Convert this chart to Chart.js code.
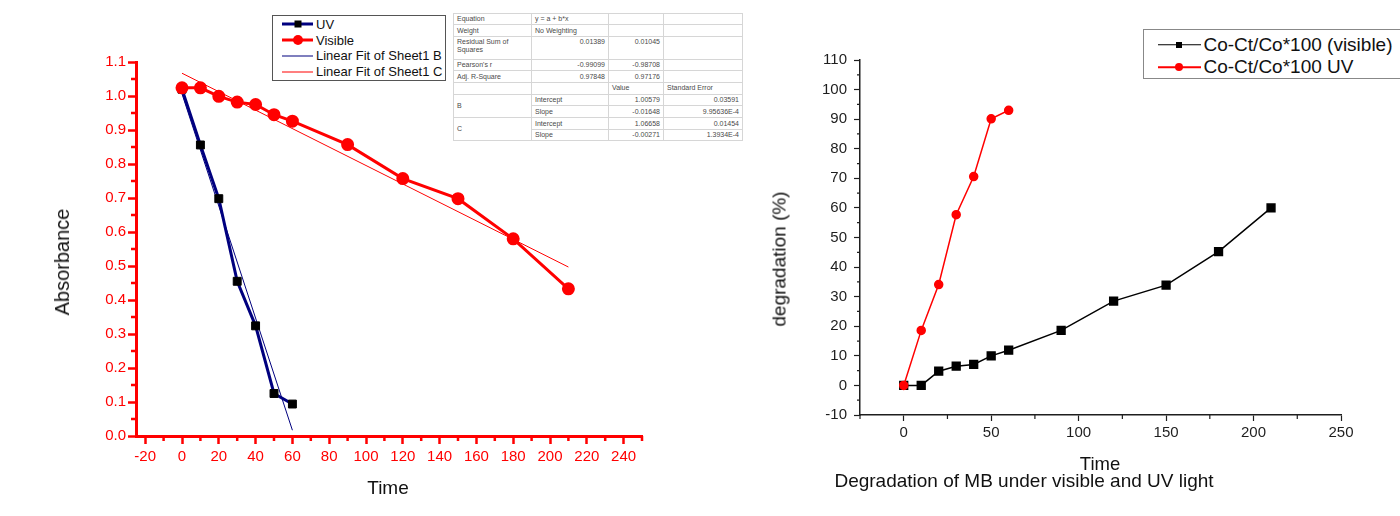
<!DOCTYPE html>
<html>
<head>
<meta charset="utf-8">
<title>Absorbance and degradation of MB</title>
<script src="https://cdn.jsdelivr.net/npm/chart.js@4.4.1/dist/chart.umd.min.js"></script>
<style>
  html, body { margin: 0; padding: 0; background: #fff; }
  body { width: 1400px; height: 516px; position: relative; overflow: hidden;
         font-family: Arial, "Liberation Sans", sans-serif; color: #111; }
  canvas { position: absolute; top: 0; }
  #absCanvas { left: 0; }
  #degCanvas { left: 760px; }
  .lbl { position: absolute; white-space: nowrap; line-height: 1; transform: translate(-50%, -50%); }
  .vert { transform: translate(-50%, -50%) rotate(-90deg); }
  .legend { position: absolute; background: #fff; box-sizing: border-box; }
  .legend .row { display: flex; align-items: center; white-space: nowrap; }
  .legend .sample { position: relative; height: 100%; flex: none; }
  .legend .line { position: absolute; left: 0; right: 0; top: 50%; transform: translateY(-50%); }
  .legend .mark { position: absolute; left: 50%; top: 50%; transform: translate(-50%, -50%); }
  .legend .mark.circle { border-radius: 50%; }
  #absLegend { left: 271.5px; top: 15px; width: 174px; height: 66px; border: 1.5px solid #555;
               font-size: 13px; padding-top: 0.5px; }
  #absLegend .row { height: 15.8px; }
  #degLegend { left: 1142.5px; top: 29px; width: 280px; height: 50px; border: 1px solid #888;
               font-size: 19px; padding-top: 3.8px; }
  #degLegend .row { height: 22.3px; }
  #fitTable { position: absolute; left: 453px; top: 12.5px; border-collapse: collapse;
              border: 1px solid #a8a8a8; font-size: 7px; color: #4a4a4a; table-layout: fixed; background: #fff; }
  #fitTable td { border: 1px solid #d6d6d6; padding: 0 3px; height: 10.7px; line-height: 1.1;
                 white-space: nowrap; vertical-align: middle; overflow: hidden; }
  #fitTable td.r { text-align: right; }
  #fitTable tr.tall td { height: 20.7px; vertical-align: top; padding-top: 1px; }
</style>
</head>
<body>
<canvas id="absCanvas" width="760" height="516"></canvas>
<canvas id="degCanvas" width="640" height="516"></canvas>

<div class="lbl vert" style="left:62px; top:262px; font-size:20px;">Absorbance</div>
<div class="lbl" style="left:388px; top:487px; font-size:19px;">Time</div>
<div class="lbl vert" style="left:779px; top:259px; font-size:19px;">degradation (%)</div>
<div class="lbl" style="left:1100px; top:464px; font-size:18.5px;">Time</div>
<div class="lbl" style="left:1024px; top:479.5px; font-size:19px;">Degradation of MB under visible and UV light</div>

<div id="absLegend" class="legend"></div>
<div id="degLegend" class="legend"></div>

<table id="fitTable">
  <colgroup><col style="width:78px"><col style="width:77px"><col style="width:55px"><col style="width:79px"></colgroup>
  <tr><td>Equation</td><td>y = a + b*x</td><td></td><td></td></tr>
  <tr><td>Weight</td><td>No Weighting</td><td></td><td></td></tr>
  <tr class="tall"><td>Residual Sum of<br>Squares</td><td class="r">0.01389</td><td class="r">0.01045</td><td></td></tr>
  <tr><td>Pearson's r</td><td class="r">-0.99099</td><td class="r">-0.98708</td><td></td></tr>
  <tr><td>Adj. R-Square</td><td class="r">0.97848</td><td class="r">0.97176</td><td></td></tr>
  <tr><td></td><td></td><td>Value</td><td>Standard Error</td></tr>
  <tr><td rowspan="2">B</td><td>Intercept</td><td class="r">1.00579</td><td class="r">0.03591</td></tr>
  <tr><td>Slope</td><td class="r">-0.01648</td><td class="r">9.95636E-4</td></tr>
  <tr><td rowspan="2">C</td><td>Intercept</td><td class="r">1.06658</td><td class="r">0.01454</td></tr>
  <tr><td>Slope</td><td class="r">-0.00271</td><td class="r">1.3934E-4</td></tr>
</table>

<script>
// ---------------- data: absorbance chart ----------------
const uvTime = [0, 10, 20, 30, 40, 50, 60];
const uvAbs = [1.02, 0.856, 0.698, 0.455, 0.324, 0.125, 0.094];
const visTime = [0, 10, 20, 30, 40, 50, 60, 90, 120, 150, 180, 210];
const visAbs = [1.024, 1.024, 0.999, 0.982, 0.975, 0.945, 0.926, 0.857, 0.757, 0.698, 0.580, 0.433];
// fit lines: end points
const fitBTime = [0, 60];
const fitBAbs = [1.006, 0.017];
const fitCTime = [0, 210];
const fitCAbs = [1.067, 0.497];
const absXTicks = [-20, 0, 20, 40, 60, 80, 100, 120, 140, 160, 180, 200, 220, 240];
const absYTicks = [0, 0.1, 0.2, 0.3, 0.4, 0.5, 0.6, 0.7, 0.8, 0.9, 1.0, 1.1];

// ---------------- data: degradation chart ----------------
const degVisTime = [0, 10, 20, 30, 40, 50, 60, 90, 120, 150, 180, 210];
const degVis = [0, 0, 4.8, 6.5, 7.1, 10, 11.9, 18.6, 28.5, 33.9, 45.2, 60];
const degUvTime = [0, 10, 20, 30, 40, 50, 60];
const degUv = [0, 18.6, 34.1, 57.7, 70.6, 90.1, 93];
const degXTicks = [0, 50, 100, 150, 200, 250];
const degYTicks = [-10, 0, 10, 20, 30, 40, 50, 60, 70, 80, 90, 100, 110];

const FONT = 'Arial, "Liberation Sans", sans-serif';
const RED = '#ff0000';
const NAVY = '#00007f';
const INK = '#1e1e1e';

const pts = (xs, ys) => xs.map((x, i) => ({ x, y: ys[i] }));

// minor ticks (Chart.js only draws one tick per label)
const minorTicks = {
  id: 'minorTicks',
  afterDraw(chart, args, opts) {
    const ctx = chart.ctx;
    const sx = chart.scales.x, sy = chart.scales.y;
    ctx.save();
    ctx.strokeStyle = opts.color;
    ctx.lineWidth = opts.width;
    ctx.beginPath();
    for (let v = opts.x.start; v <= sx.max + 1e-9; v += opts.x.step) {
      const p = sx.getPixelForValue(v);
      ctx.moveTo(p, sx.top);
      ctx.lineTo(p, sx.top + opts.x.len);
    }
    for (let v = opts.y.start; v <= sy.max + 1e-9; v += opts.y.step) {
      const p = sy.getPixelForValue(v);
      ctx.moveTo(sy.right, p);
      ctx.lineTo(sy.right - opts.y.len, p);
    }
    ctx.stroke();
    ctx.restore();
  }
};

function axis(min, max, tickList, o) {
  return {
    type: 'linear', min, max,
    afterBuildTicks: s => { s.ticks = tickList.map(value => ({ value })); },
    afterFit: s => { if (o.width) s.width = o.width; if (o.height) s.height = o.height; },
    border: { color: o.color, width: o.border },
    grid: { drawOnChartArea: false, tickLength: o.tickLength, tickColor: o.color, tickWidth: o.tickWidth },
    ticks: { color: o.labelColor, font: { family: FONT, size: 15 }, padding: o.padding,
             autoSkip: false, maxRotation: 0, callback: o.fmt || (v => v) }
  };
}

// ---------------- absorbance chart ----------------
const absChart = new Chart(document.getElementById('absCanvas'), {
  type: 'line',
  data: {
    datasets: [
      { label: 'UV', data: pts(uvTime, uvAbs), borderColor: NAVY, borderWidth: 3,
        pointStyle: 'rect', pointRadius: 5.6, pointBackgroundColor: '#000', pointBorderColor: '#000',
        pointBorderWidth: 1, order: 1, legendMark: 7 },
      { label: 'Visible', data: pts(visTime, visAbs), borderColor: RED, borderWidth: 3,
        pointStyle: 'circle', pointRadius: 5, pointBackgroundColor: RED, pointBorderColor: RED,
        order: 0, legendMark: 10 },
      { label: 'Linear Fit of Sheet1 B', data: pts(fitBTime, fitBAbs), borderColor: NAVY, borderWidth: 1,
        pointRadius: 0, order: 2 },
      { label: 'Linear Fit of Sheet1 C', data: pts(fitCTime, fitCAbs), borderColor: RED, borderWidth: 1,
        pointRadius: 0, order: 2 }
    ]
  },
  options: {
    responsive: false, animation: false, events: [],
    layout: { padding: { left: 0, top: 62, right: 118, bottom: 20 } },
    elements: { line: { tension: 0 } },
    plugins: {
      legend: { display: false }, tooltip: { enabled: false },
      minorTicks: { color: RED, width: 2.5, x: { start: -10, step: 20, len: 5 }, y: { start: 0.05, step: 0.1, len: 5 } }
    },
    scales: {
      x: axis(-25, 250, absXTicks, { height: 60, color: RED, labelColor: RED, border: 3,
        tickLength: 8, tickWidth: 2.5, padding: 4 }),
      y: axis(0, 1.1, absYTicks, { width: 136, color: RED, labelColor: RED, border: 3,
        tickLength: 8, tickWidth: 2.5, padding: 2, fmt: v => v.toFixed(1) })
    }
  },
  plugins: [minorTicks]
});

// ---------------- degradation chart ----------------
const degChart = new Chart(document.getElementById('degCanvas'), {
  type: 'line',
  data: {
    datasets: [
      { label: 'Co-Ct/Co*100 (visible)', data: pts(degVisTime, degVis), borderColor: '#000', borderWidth: 1.5,
        pointStyle: 'rect', pointRadius: 5.5, pointBackgroundColor: '#000', pointBorderColor: '#000',
        order: 1, legendMark: 6 },
      { label: 'Co-Ct/Co*100 UV', data: pts(degUvTime, degUv), borderColor: RED, borderWidth: 1.5,
        pointStyle: 'circle', pointRadius: 4, pointBackgroundColor: RED, pointBorderColor: RED,
        order: 0, legendMark: 8 }
    ]
  },
  options: {
    responsive: false, animation: false, events: [],
    layout: { padding: { left: 0, top: 60, right: 59, bottom: 41 } },
    elements: { line: { tension: 0 } },
    plugins: {
      legend: { display: false }, tooltip: { enabled: false },
      minorTicks: { color: INK, width: 1.2, x: { start: -25, step: 50, len: 4 }, y: { start: -5, step: 10, len: 3 } }
    },
    scales: {
      x: axis(-25, 250, degXTicks, { height: 60, color: INK, labelColor: INK, border: 1.5,
        tickLength: 6, tickWidth: 1.2, padding: 3 }),
      y: axis(-10, 110, degYTicks, { width: 100, color: INK, labelColor: INK, border: 1.5,
        tickLength: 6, tickWidth: 1.2, padding: 7 })
    }
  },
  plugins: [minorTicks]
});

// ---------------- html legends built from the datasets ----------------
function buildLegend(el, chart, sampleLeft, sampleWidth, gap) {
  chart.data.datasets.forEach(ds => {
    const row = document.createElement('div');
    row.className = 'row';
    const sample = document.createElement('span');
    sample.className = 'sample';
    sample.style.marginLeft = sampleLeft + 'px';
    sample.style.width = sampleWidth + 'px';
    sample.style.marginRight = gap + 'px';
    const line = document.createElement('span');
    line.className = 'line';
    line.style.height = ds.borderWidth + 'px';
    line.style.background = ds.borderColor;
    sample.appendChild(line);
    if (ds.pointRadius > 0) {
      const mark = document.createElement('span');
      mark.className = 'mark ' + ds.pointStyle;
      mark.style.width = mark.style.height = ds.legendMark + 'px';
      mark.style.background = ds.pointBackgroundColor;
      sample.appendChild(mark);
    }
    const text = document.createElement('span');
    text.textContent = ds.label;
    row.append(sample, text);
    el.appendChild(row);
  });
}
buildLegend(document.getElementById('absLegend'), absChart, 9.5, 31, 3);
buildLegend(document.getElementById('degLegend'), degChart, 14, 43, 3);
</script>
</body>
</html>
